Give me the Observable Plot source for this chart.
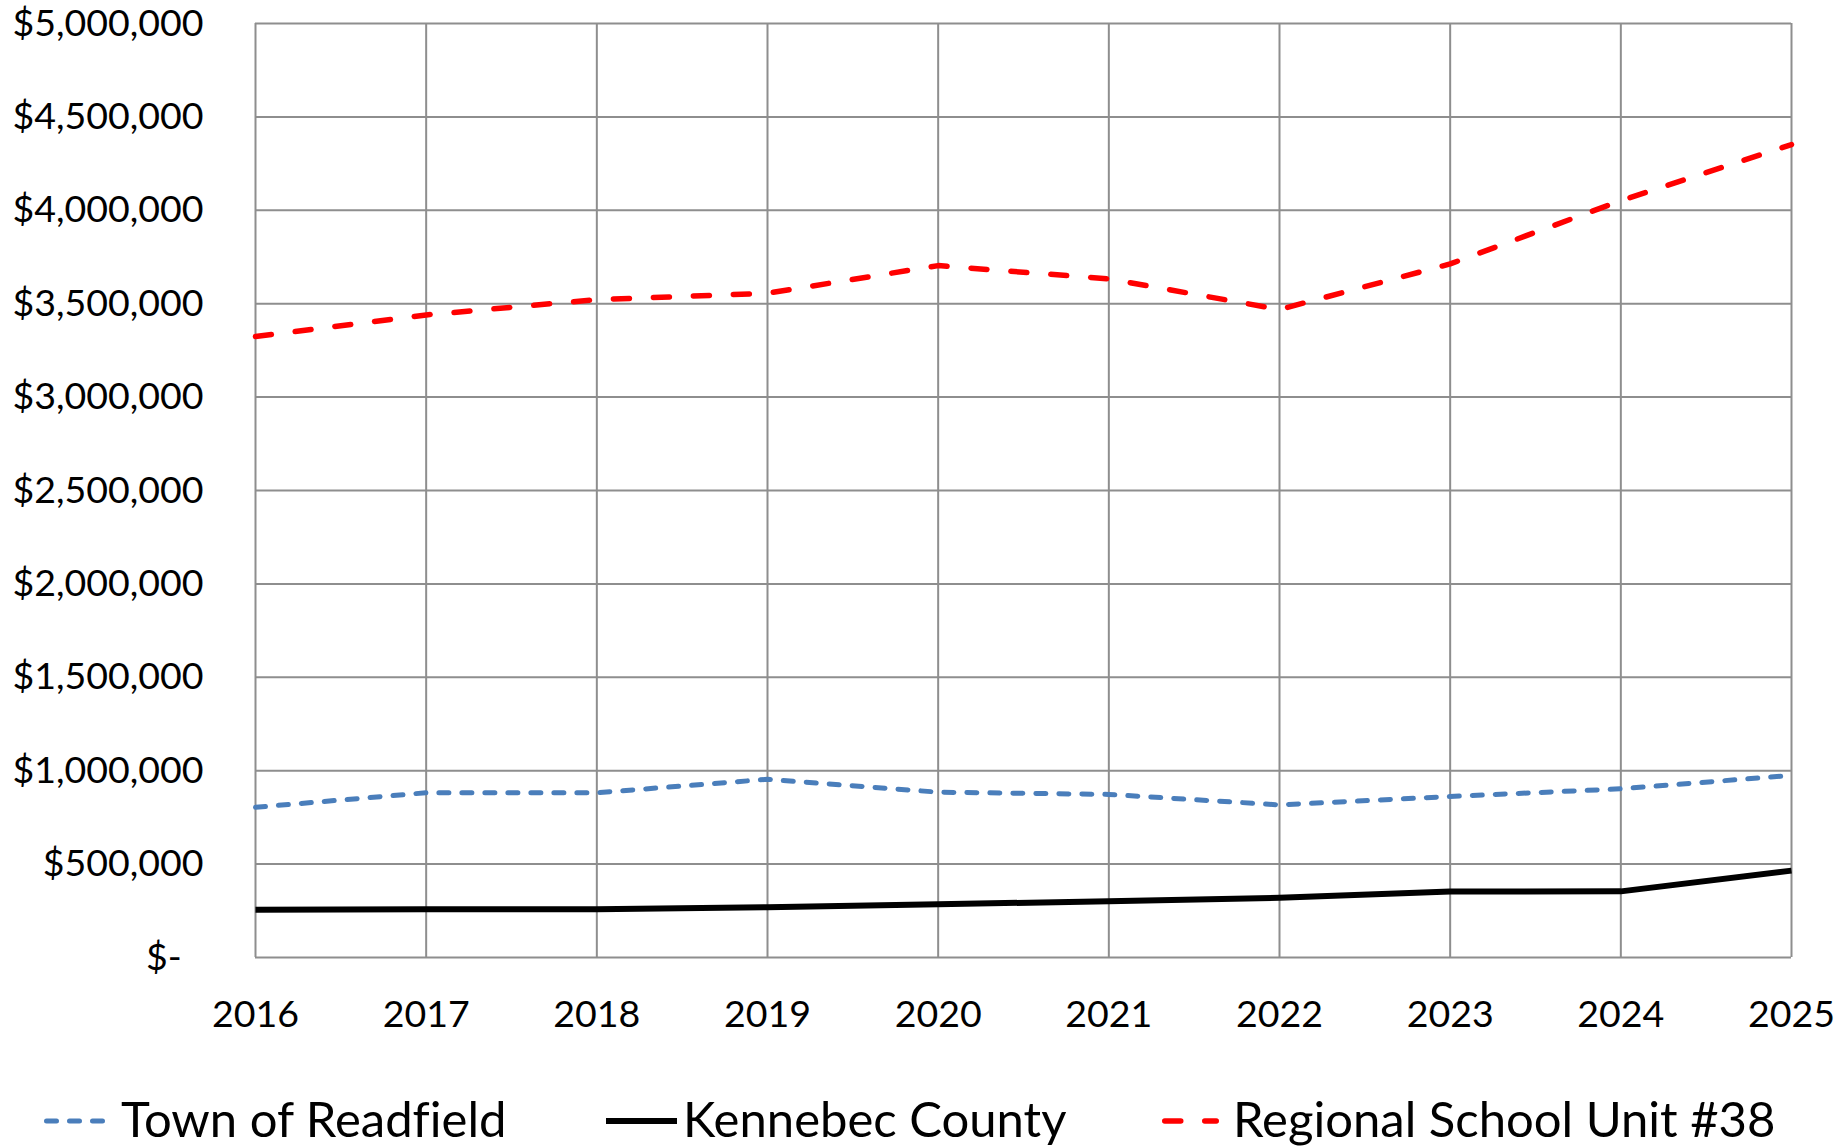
<!DOCTYPE html>
<html>
<head>
<meta charset="utf-8">
<script src="https://cdn.jsdelivr.net/npm/d3@7"></script>
<script src="https://cdn.jsdelivr.net/npm/@observablehq/plot@0.6"></script>
<style>
  html, body { margin: 0; padding: 0; background: #fff; }
  #chart svg { display: block; }
  #legend { display: block; }
  text { font-variant-ligatures: none; }
</style>
</head>
<body>
<div id="chart"></div>
<svg id="legend" width="1846" height="86"></svg>
<script>
const years = [2016, 2017, 2018, 2019, 2020, 2021, 2022, 2023, 2024, 2025];
const townOfReadfield = [804000, 882000, 882000, 954000, 885000, 873000, 817000, 862000, 903000, 975000];
const kennebecCounty = [256000, 258000, 258000, 269000, 285000, 301000, 320000, 353000, 354000, 465000];
const rsu38 = [3324000, 3440000, 3522000, 3556000, 3704000, 3633000, 3469000, 3713000, 4052000, 4352000];
const seriesNames = ["Town of Readfield", "Kennebec County", "Regional School Unit #38"];
const yTicks = [0, 500000, 1000000, 1500000, 2000000, 2500000, 3000000, 3500000, 4000000, 4500000, 5000000];

const seriesStyles = [
  {color: "#4a7ebb", width: 5, dash: "10,13"},
  {color: "#000000", width: 6, dash: null},
  {color: "#ff0000", width: 5.5, dash: "16,24"}
];
const seriesValues = [townOfReadfield, kennebecCounty, rsu38];

const rows = [];
seriesNames.forEach((name, i) => {
  years.forEach((y, j) => rows.push({series: name, year: y, value: seriesValues[i][j]}));
});

const gridColor = "#8e8e8e";
const fmt = d3.format("$,");

const marks = [
  Plot.gridX(years, {stroke: gridColor, strokeOpacity: 1, strokeWidth: 2}),
  Plot.gridY(yTicks, {stroke: gridColor, strokeOpacity: 1, strokeWidth: 2}),
  Plot.axisX(years, {tickSize: 0, tickPadding: 43, tickFormat: d => String(d), fill: "#000", label: null}),
  Plot.axisY(yTicks, {tickSize: 0, tickPadding: 52, tickFormat: d => d === 0 ? "$-\u2007" : fmt(d), fill: "#000", label: null})
];
seriesNames.forEach((name, i) => {
  const s = seriesStyles[i];
  marks.push(Plot.line(rows.filter(r => r.series === name), {
    x: "year", y: "value",
    stroke: s.color, strokeWidth: s.width,
    strokeDasharray: s.dash || undefined,
    strokeLinecap: s.dash ? "round" : "butt",
    strokeLinejoin: "round"
  }));
});

const chart = Plot.plot({
  width: 1846,
  height: 1060,
  marginLeft: 255,
  marginRight: 55,
  marginTop: 23,
  marginBottom: 103,
  style: {fontFamily: "Lato, 'Open Sans', sans-serif", fontSize: "37.5px", color: "#000", background: "#fff"},
  x: {type: "linear", domain: [2016, 2025], label: null},
  y: {domain: [0, 5000000], label: null},
  marks
});
document.getElementById("chart").appendChild(chart);

// Legend below the chart
const legend = d3.select("#legend");
const legendItems = [
  {x1: 44, x2: 106, tx: 121},
  {x1: 606, x2: 677, tx: 683},
  {x1: 1162, x2: 1219, tx: 1233}
];
seriesNames.forEach((name, i) => {
  const s = seriesStyles[i];
  const it = legendItems[i];
  legend.append("line")
    .attr("x1", it.x1 + (s.dash ? s.width / 2 : 0)).attr("x2", it.x2 - (s.dash ? s.width / 2 : 0))
    .attr("y1", 61).attr("y2", 61)
    .attr("stroke", s.color).attr("stroke-width", s.width)
    .attr("stroke-linecap", s.dash ? "round" : "butt")
    .attr("stroke-dasharray", s.dash);
  legend.append("text")
    .attr("x", it.tx).attr("y", 77)
    .attr("font-family", "Lato, 'Open Sans', sans-serif")
    .attr("font-size", 49)
    .attr("fill", "#000")
    .text(name);
});
</script>
</body>
</html>
